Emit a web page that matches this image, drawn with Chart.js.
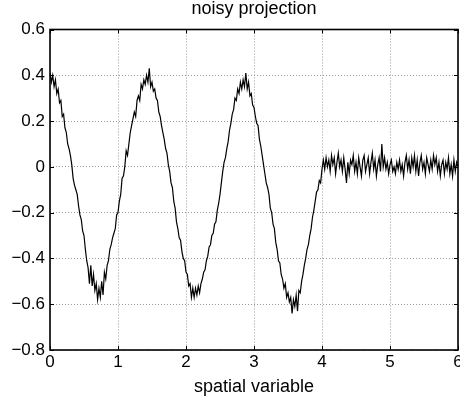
<!DOCTYPE html>
<html>
<head>
<meta charset="utf-8">
<script src="https://cdn.jsdelivr.net/npm/chart.js@4.4.1/dist/chart.umd.min.js"></script>
<style>
  html, body { margin: 0; padding: 0; background: #fff; }
</style>
</head>
<body>
<canvas id="noisyChart" width="460" height="396"></canvas>
<script>
// samples every 0.02 along the spatial variable
const xStep = 0.02;

// 0.00 .. 4.00 : the noisy cosine part
const waveValues = [
  0.41, 0.37, 0.40, 0.35, 0.38, 0.32, 0.34, 0.28, 0.29, 0.22,
  0.23, 0.17, 0.15, 0.10, 0.08, 0.05, 0.01, -0.05, -0.08, -0.10,
  -0.12, -0.17, -0.21, -0.23, -0.28, -0.30, -0.36, -0.41, -0.44, -0.51,
  -0.43, -0.52, -0.47, -0.54, -0.51, -0.58, -0.53, -0.57, -0.50, -0.56,
  -0.46, -0.49, -0.43, -0.41, -0.36, -0.34, -0.31, -0.29, -0.27, -0.21,
  -0.20, -0.15, -0.12, -0.05, -0.04, 0.00, 0.07, 0.05, 0.10, 0.15,
  0.18, 0.21, 0.24, 0.22, 0.29, 0.31, 0.29, 0.36, 0.34, 0.38,
  0.36, 0.40, 0.37, 0.43, 0.35, 0.37, 0.33, 0.34, 0.30, 0.29,
  0.24, 0.22, 0.18, 0.15, 0.12, 0.08, 0.06, 0.01, -0.02, -0.07,
  -0.09, -0.15, -0.18, -0.24, -0.27, -0.31, -0.32, -0.37, -0.40, -0.41,
  -0.46, -0.47, -0.52, -0.51, -0.57, -0.53, -0.57, -0.53, -0.56, -0.52,
  -0.55, -0.51, -0.49, -0.46, -0.45, -0.41, -0.39, -0.35, -0.34, -0.30,
  -0.29, -0.25, -0.24, -0.19, -0.16, -0.12, -0.07, -0.02, 0.02, 0.04,
  0.08, 0.11, 0.16, 0.19, 0.23, 0.25, 0.30, 0.29, 0.34, 0.32,
  0.37, 0.34, 0.38, 0.35, 0.41, 0.34, 0.37, 0.31, 0.32, 0.27,
  0.26, 0.22, 0.19, 0.18, 0.12, 0.09, 0.05, 0.01, -0.03, -0.07,
  -0.09, -0.12, -0.18, -0.20, -0.25, -0.27, -0.33, -0.36, -0.41, -0.42,
  -0.47, -0.49, -0.53, -0.51, -0.57, -0.55, -0.59, -0.57, -0.64, -0.58,
  -0.61, -0.56, -0.63, -0.54, -0.55, -0.50, -0.47, -0.43, -0.40, -0.36,
  -0.34, -0.30, -0.27, -0.22, -0.19, -0.15, -0.11, -0.10, -0.06, -0.07,
  -0.01
];

// 4.02 .. 6.00 : flat noise
const tailValues = [
  0.03, -0.01, 0.04, 0.00, 0.03, -0.02, 0.05, 0.01, 0.04, -0.03,
  0.02, 0.06, 0.00, 0.03, -0.02, 0.04, -0.01, -0.07, 0.02, -0.03,
  0.03, 0.01, 0.05, -0.02, 0.02, -0.03, 0.04, 0.00, -0.04, 0.03,
  0.05, -0.02, 0.01, 0.04, -0.03, 0.02, 0.06, -0.01, 0.03, -0.04,
  0.01, 0.04, -0.02, 0.10, 0.00, 0.04, -0.01, 0.02, -0.03, 0.01,
  0.03, -0.02, 0.00, -0.03, 0.02, -0.01, 0.03, -0.02, 0.01, -0.04,
  0.02, 0.05, -0.01, 0.03, -0.03, 0.04, 0.00, 0.05, -0.02, 0.03,
  -0.04, 0.02, 0.05, -0.01, 0.02, -0.03, 0.04, 0.01, -0.02, 0.03,
  -0.01, 0.05, 0.01, 0.04, -0.02, 0.02, -0.04, 0.01, 0.03, -0.03,
  0.02, -0.01, 0.04, -0.03, 0.01, -0.04, 0.03, -0.02, 0.02, 0.00
];

const xTicks = [0, 1, 2, 3, 4, 5, 6];
const yTicks = [-0.8, -0.6, -0.4, -0.2, 0, 0.2, 0.4, 0.6];
const yTickLabels = ['\u22120.8', '\u22120.6', '\u22120.4', '\u22120.2', '0', '0.2', '0.4', '0.6'];

const FONT = "'Liberation Sans', Arial, Helvetica, sans-serif";
const tickFont = { family: FONT, size: 17, weight: 'normal', lineHeight: 1 };
const labelFont = { family: FONT, size: 18, weight: 'normal', lineHeight: 1 };

const points = waveValues.concat(tailValues).map((y, i) => ({ x: +(i * xStep).toFixed(2), y }));

// black box round the axes with small inward tick marks, matlab style
const framePlugin = {
  id: 'frame',
  afterDatasetsDraw(chart) {
    const { ctx, chartArea: a, scales: { x, y } } = chart;
    ctx.save();
    ctx.strokeStyle = '#000';
    ctx.lineWidth = 1;
    ctx.beginPath();
    xTicks.forEach(v => {
      const px = Math.round(x.getPixelForValue(v)) + 0.5;
      ctx.moveTo(px, a.bottom); ctx.lineTo(px, a.bottom - 4);
      ctx.moveTo(px, a.top); ctx.lineTo(px, a.top + 4);
    });
    yTicks.forEach(v => {
      const py = Math.round(y.getPixelForValue(v)) + 0.5;
      ctx.moveTo(a.left, py); ctx.lineTo(a.left + 4, py);
      ctx.moveTo(a.right, py); ctx.lineTo(a.right - 4, py);
    });
    ctx.stroke();
    ctx.lineWidth = 1.6;
    ctx.strokeRect(a.left, a.top, a.right - a.left, a.bottom - a.top);
    ctx.restore();
  }
};

new Chart(document.getElementById('noisyChart').getContext('2d'), {
  type: 'line',
  data: {
    datasets: [{
      data: points,
      borderColor: '#000',
      borderWidth: 1.2,
      pointRadius: 0,
      tension: 0,
      fill: false
    }]
  },
  options: {
    responsive: false,
    animation: false,
    layout: { padding: { left: 0, right: 2, top: 0, bottom: 0 } },
    plugins: {
      legend: { display: false },
      tooltip: { enabled: false },
      title: {
        display: true,
        fullSize: false,
        text: 'noisy projection',
        color: '#000',
        font: labelFont,
        padding: { top: 0.5, bottom: 11 }
      }
    },
    scales: {
      x: {
        type: 'linear',
        min: 0,
        max: 6,
        afterBuildTicks: s => { s.ticks = xTicks.map(v => ({ value: v })); },
        ticks: { color: '#000', font: tickFont, padding: 4, maxRotation: 0, autoSkip: false },
        grid: { color: '#999', drawTicks: false, lineWidth: 1 },
        border: { display: false, dash: [1, 2] },
        title: { display: true, text: 'spatial variable', color: '#000', font: labelFont, padding: { top: 0, bottom: -0.5 } },
        afterFit: s => { s.height = 46; s.paddingLeft = 0; s.paddingRight = 0; }
      },
      y: {
        min: -0.8,
        max: 0.6,
        afterBuildTicks: s => { s.ticks = yTicks.map(v => ({ value: v })); },
        ticks: {
          color: '#000',
          font: tickFont,
          padding: 5,
          callback: (v) => yTickLabels[yTicks.findIndex(t => Math.abs(t - v) < 1e-9)]
        },
        grid: { color: '#999', drawTicks: false, lineWidth: 1 },
        border: { display: false, dash: [1, 2] },
        afterFit: s => { s.width = 50; s.paddingTop = 0; s.paddingBottom = 0; }
      }
    }
  },
  plugins: [framePlugin]
});
</script>
</body>
</html>
